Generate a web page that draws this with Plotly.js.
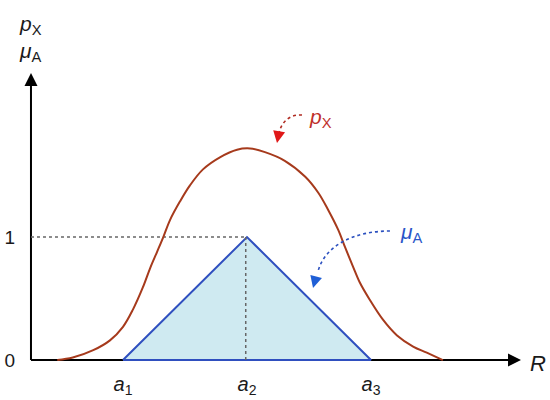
<!DOCTYPE html>
<html><head><meta charset="utf-8">
<script src="https://cdn.plot.ly/plotly-3.0.1.min.js"></script>
<style>html,body{margin:0;padding:0;background:#fff}</style>
</head><body><div id="chart" style="width:550px;height:400px"></div>
<script>
// Bell-shaped probability density p_X
const curveX = [0.94, 1.19, 1.52, 1.79, 2.00, 2.16, 2.32, 2.44, 2.55, 2.65, 2.76, 2.92, 3.08, 3.29, 3.57, 3.84, 4.05, 4.29, 4.61, 4.94, 5.15, 5.31, 5.47, 5.58, 5.71, 5.82, 5.98, 6.19, 6.42, 6.68, 6.90, 7.16];
const curveY = [0.00, 0.02, 0.08, 0.16, 0.27, 0.41, 0.59, 0.75, 0.88, 1.00, 1.14, 1.29, 1.42, 1.55, 1.65, 1.71, 1.72, 1.69, 1.62, 1.49, 1.36, 1.22, 1.06, 0.92, 0.76, 0.63, 0.49, 0.33, 0.20, 0.11, 0.06, 0.00];
// Triangular membership function mu_A
const triX = [2, 4, 6, 2];
const triY = [0, 1, 0, 0];
// Ticks
const xTickVals = [2, 4, 6];
const xTickText = ['<i>a</i><sub>1</sub>', '<i>a</i><sub>2</sub>', '<i>a</i><sub>3</sub>'];
const yTickVals = [0, 1];
const yTickText = ['0', '1'];
// Axis geometry (data units)
const axisX0 = 0.516, axisXEnd = 8.42, axisYEnd = 2.333;

const font = 'Liberation Sans, Arial, sans-serif';
const curveColor = '#a63a1c';
const triColor = '#2f4fbf';

const traces = [
  {x: triX, y: triY, mode: 'lines', fill: 'toself', fillcolor: '#cfeaf1',
   line: {color: triColor, width: 2}, hoverinfo: 'skip'},
  {x: [axisX0, 4], y: [1, 1], mode: 'lines', line: {color: '#666', width: 1.5, dash: 'dot'}, hoverinfo: 'skip'},
  {x: [3.98, 3.98], y: [1, 0], mode: 'lines', line: {color: '#666', width: 1.5, dash: 'dot'}, hoverinfo: 'skip'},
  {x: curveX, y: curveY, mode: 'lines', line: {color: curveColor, width: 2, shape: 'spline', smoothing: 1}, hoverinfo: 'skip'}
];

const layout = {
  width: 550, height: 400,
  margin: {l: 21, r: 19, t: 63, b: 30},
  paper_bgcolor: '#fff', plot_bgcolor: '#fff',
  showlegend: false,
  font: {family: font, color: '#1a1a1a'},
  xaxis: {range: [0.355, 8.581], showgrid: false, zeroline: false, showline: false, ticks: '',
          tickvals: xTickVals, ticktext: xTickText, tickfont: {size: 20, family: font}, fixedrange: true},
  yaxis: {range: [-0.081, 2.415], showgrid: false, zeroline: false, showline: false, ticks: '',
          tickvals: yTickVals, ticktext: yTickText, tickfont: {size: 19, family: font},
          ticklabelstandoff: 5, fixedrange: true},
  shapes: [
    {type: 'line', layer: 'below', xref: 'x', yref: 'y', x0: axisX0, y0: 0, x1: axisXEnd - 0.15, y1: 0, line: {color: '#000', width: 2}},
    {type: 'line', layer: 'below', xref: 'x', yref: 'y', x0: axisX0, y0: 0, x1: axisX0, y1: axisYEnd - 0.08, line: {color: '#000', width: 2}},
    {type: 'path', xref: 'x', yref: 'y', path: 'M 4.887,1.992 C 4.694,2.0 4.548,1.935 4.516,1.84', line: {color: '#b02a20', width: 1.6, dash: 'dot'}},
    {type: 'path', xref: 'x', yref: 'y', path: 'M 6.306,1.049 C 5.742,1.049 5.258,0.935 5.145,0.72', line: {color: '#2a4fbf', width: 1.6, dash: 'dot'}}
  ],
  annotations: [
    {x: axisXEnd, y: 0, xref: 'x', yref: 'y', ax: -14, ay: 0, text: '', showarrow: true, arrowhead: 2, arrowsize: 1.3, arrowwidth: 2, arrowcolor: '#000'},
    {x: axisX0, y: axisYEnd, xref: 'x', yref: 'y', ax: 0, ay: 14, text: '', showarrow: true, arrowhead: 2, arrowsize: 1.3, arrowwidth: 2, arrowcolor: '#000'},
    {x: 4.484, y: 1.764, xref: 'x', yref: 'y', ax: 2, ay: -11, text: '', showarrow: true, arrowhead: 2, arrowsize: 1.6, arrowwidth: 1.5, arrowcolor: '#e01818'},
    {x: 5.065, y: 0.585, xref: 'x', yref: 'y', ax: 3, ay: -11, text: '', showarrow: true, arrowhead: 2, arrowsize: 1.6, arrowwidth: 1.5, arrowcolor: '#1f5fd6'},
    {x: 4.968, y: 1.967, xref: 'x', yref: 'y', xanchor: 'left', yanchor: 'middle', showarrow: false,
     text: '<i>p</i><sub>X</sub>', font: {size: 21, color: '#c0302a', family: font}},
    {x: 6.435, y: 1.03, xref: 'x', yref: 'y', xanchor: 'left', yanchor: 'middle', showarrow: false,
     text: '<i>μ</i><sub>A</sub>', font: {size: 21, color: '#2a55c8', family: font}},
    {x: 1.0137, y: 0.02, xref: 'paper', yref: 'paper', xanchor: 'center', yanchor: 'middle', showarrow: false,
     text: '<i>R</i>', font: {size: 22, color: '#1a1a1a', family: font}},
    {x: 0.0196, y: 1.125, xref: 'paper', yref: 'paper', xanchor: 'center', yanchor: 'middle', showarrow: false,
     text: '<i>p</i><sub>X</sub>', font: {size: 21, color: '#1a1a1a', family: font}},
    {x: 0.0196, y: 1.036, xref: 'paper', yref: 'paper', xanchor: 'center', yanchor: 'middle', showarrow: false,
     text: '<i>μ</i><sub>A</sub>', font: {size: 21, color: '#1a1a1a', family: font}}
  ]
};

Plotly.newPlot('chart', traces, layout, {displayModeBar: false, staticPlot: true});
</script>
</body></html>
